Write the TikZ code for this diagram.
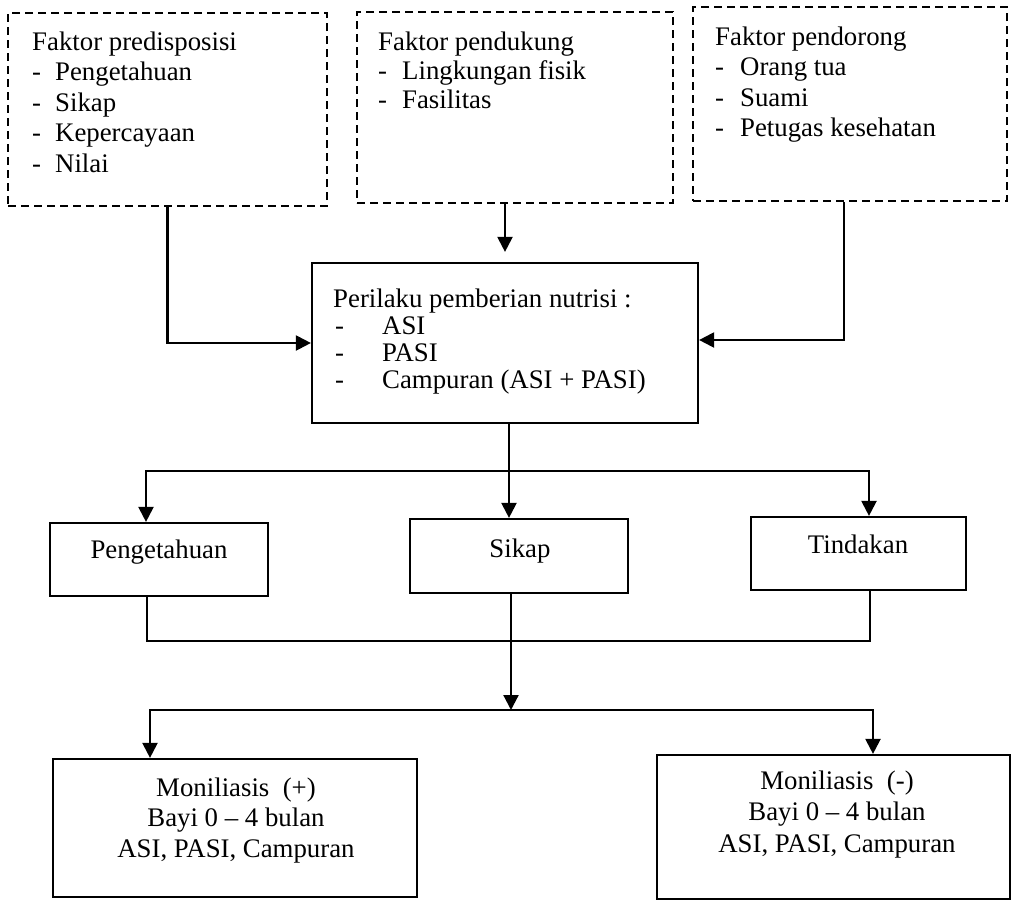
\documentclass[tikz,border=0pt]{standalone}
\usepackage{fontspec}
\setmainfont{Liberation Serif}
\usetikzlibrary{arrows.meta,calc}
\begin{document}
\begin{tikzpicture}[x=1pt,y=-1pt,
  dbox/.style={draw, dash pattern=on 8pt off 5pt, line width=2.5pt, inner sep=0pt},
  sbox/.style={draw, line width=2.2pt, inner sep=0pt},
  txt/.style={inner sep=0pt, font=\fontsize{26.8}{30}\selectfont},
  conn/.style={line width=2.2pt},
  arr/.style={conn, -{Triangle[length=15pt,width=15pt]}}]
\useasboundingbox (0,0) rectangle (1013,903);

% boxes
\node[dbox, minimum width=319pt, minimum height=193pt] (B1) at (167.5,109.5) {};
\node[dbox, minimum width=316pt, minimum height=191pt] (B2) at (515,107.5) {};
\node[dbox, minimum width=314pt, minimum height=194pt] (B3) at (850,104) {};
\node[sbox, minimum width=386pt, minimum height=160pt] (C) at (505,343) {};
\node[sbox, minimum width=218pt, minimum height=73pt] (P) at (159,559.5) {};
\node[sbox, minimum width=218pt, minimum height=74pt] (S) at (519,556) {};
\node[sbox, minimum width=215pt, minimum height=73pt] (T) at (858.5,553.5) {};
\node[sbox, minimum width=364pt, minimum height=138pt] (Mp) at (235,828) {};
\node[sbox, minimum width=353pt, minimum height=144pt] (Mm) at (833.5,827) {};

% texts box 1
\node[txt, anchor=base west] (t1a) at (32,50) {Faktor predisposisi};
\node[txt, anchor=base west] (t1b) at (32,80.5) {\makebox[23pt][l]{-}Pengetahuan};
\node[txt, anchor=base west] (t1c) at (32,111) {\makebox[23pt][l]{-}Sikap};
\node[txt, anchor=base west] (t1d) at (32,141.5) {\makebox[23pt][l]{-}Kepercayaan};
\node[txt, anchor=base west] (t1e) at (32,172) {\makebox[23pt][l]{-}Nilai};
% box 2
\node[txt, anchor=base west] (t2a) at (378,50) {Faktor pendukung};
\node[txt, anchor=base west] (t2b) at (378,79) {\makebox[24pt][l]{-}Lingkungan fisik};
\node[txt, anchor=base west] (t2c) at (378,108) {\makebox[24pt][l]{-}Fasilitas};
% box 3
\node[txt, anchor=base west] (t3a) at (715,45) {Faktor pendorong};
\node[txt, anchor=base west] (t3b) at (715,75) {\makebox[25pt][l]{-}Orang tua};
\node[txt, anchor=base west] (t3c) at (715,106) {\makebox[25pt][l]{-}Suami};
\node[txt, anchor=base west] (t3d) at (715,136) {\makebox[25pt][l]{-}Petugas kesehatan};
% center
\node[txt, anchor=base west] (tca) at (333,307) {Perilaku pemberian nutrisi :};
\node[txt, anchor=base west] (tcb) at (335,334) {\makebox[47pt][l]{-}ASI};
\node[txt, anchor=base west] (tcc) at (335,361) {\makebox[47pt][l]{-}PASI};
\node[txt, anchor=base west] (tcd) at (335,388) {\makebox[47pt][l]{-}Campuran (ASI + PASI)};
% middle row
\node[txt, anchor=base] (tp) at (159,558) {Pengetahuan};
\node[txt, anchor=base] (ts) at (520,557) {Sikap};
\node[txt, anchor=base] (tt) at (858,553) {Tindakan};
% bottom
\node[txt, anchor=base] (tma) at (236,796) {Moniliasis\ \ (+)};
\node[txt, anchor=base] (tmb) at (236,826) {Bayi 0 \textendash{} 4 bulan};
\node[txt, anchor=base] (tmc) at (236,857) {ASI, PASI, Campuran};
\node[txt, anchor=base] (tna) at (837,789) {Moniliasis\ \ (-)};
\node[txt, anchor=base] (tnb) at (837,820) {Bayi 0 \textendash{} 4 bulan};
\node[txt, anchor=base] (tnc) at (837,852) {ASI, PASI, Campuran};

% connectors top
\draw[arr] (B1.south) |- (C.west);
\draw[arr, shorten >=10pt] (B2.south -| C.north) -- (C.north);
\draw[arr] ([xshift=-6pt]B3.south) |- ([yshift=3pt]C.east);

% center to middle row
\coordinate (cs) at ([xshift=4pt]C.south);
\coordinate (j1) at ($(cs)+(0,47)$);
\draw[arr] (cs) -- (cs |- S.north);
\draw[arr] (j1) -| ([xshift=-13pt]P.north);
\draw[arr] (j1) -| ([xshift=10.5pt]T.north);

% middle row to bottom
\coordinate (j2) at (511,641);
\draw[conn] ([xshift=-12pt]P.south) |- (j2) -| ([xshift=11.5pt]T.south);
\coordinate (j3) at (511,710);
\draw[arr] ([xshift=-8pt]S.south) -- (j3);
\draw[arr] (j3) -| ([xshift=-85pt]Mp.north);
\draw[arr] (j3) -| ([xshift=39.5pt]Mm.north);
\end{tikzpicture}
\end{document}
